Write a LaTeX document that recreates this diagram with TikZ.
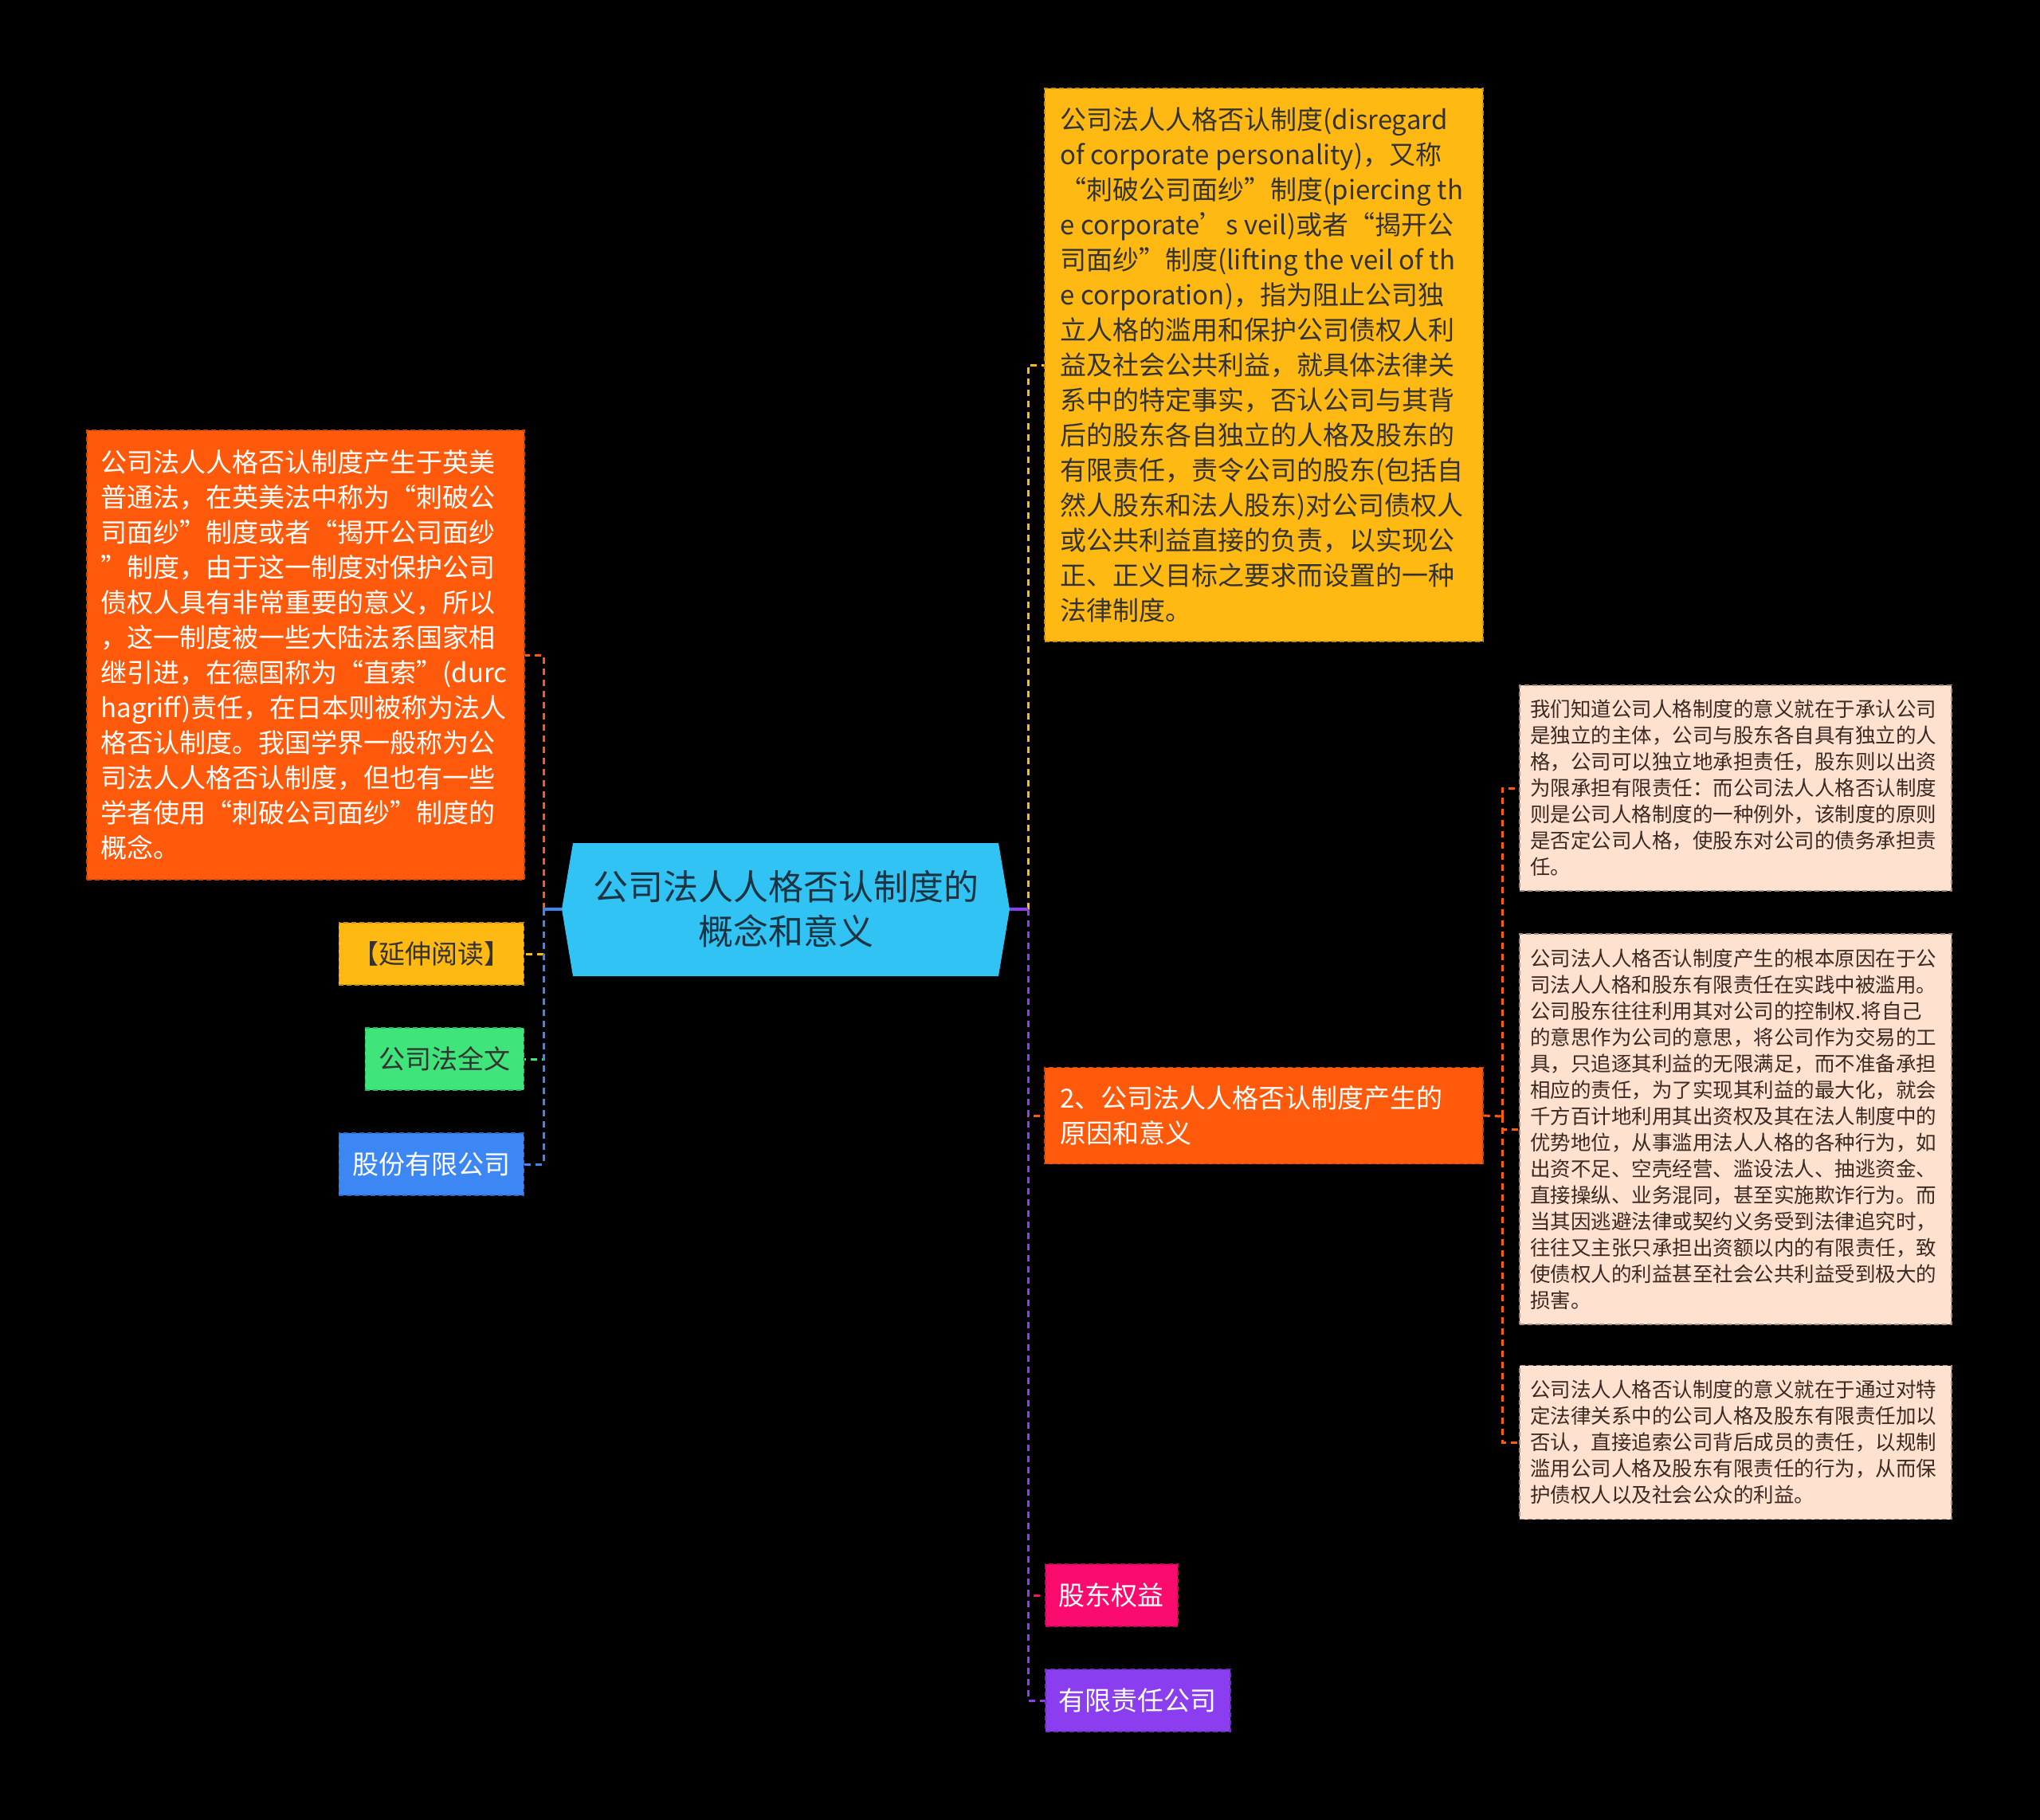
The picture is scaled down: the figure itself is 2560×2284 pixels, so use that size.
\documentclass[tikz,border=0pt]{standalone}
\usepackage{fontspec}
\setmainfont{Noto Sans CJK SC}
\definecolor{cyanC}{HTML}{31C3F3}
\definecolor{yelC}{HTML}{FFB912}
\definecolor{oraC}{HTML}{FF5A0B}
\definecolor{greC}{HTML}{3FE47B}
\definecolor{bluC}{HTML}{3C87F4}
\definecolor{pinC}{HTML}{FB0B6E}
\definecolor{purC}{HTML}{8B3DF0}
\definecolor{peaC}{HTML}{FFE1CF}
\definecolor{peaB}{HTML}{A88C7C}
\definecolor{darkT}{HTML}{333333}
\definecolor{brownT}{HTML}{3A2A22}
\definecolor{rootT}{HTML}{1C3442}
\tikzset{
  boxshape/.style={draw=#1!78!black, fill=#1, dash pattern=on 6pt off 4pt, line width=1.5pt, inner sep=0pt},
  peachshape/.style={draw=peaB, fill=peaC, dash pattern=on 6pt off 4pt, line width=1.5pt, inner sep=0pt},
  bigtext/.style={anchor=west, align=left, inner sep=0pt, font=\fontsize{33}{44}\selectfont},
  peachtext/.style={anchor=west, align=left, inner sep=0pt, text=brownT, font=\fontsize{25.5}{33}\selectfont},
  smallnode/.style={draw=#1!78!black, fill=#1, dash pattern=on 6pt off 4pt, line width=1.5pt, inner xsep=17pt, inner ysep=0pt, minimum height=78pt, font=\fontsize{33}{44}\selectfont},
  conn/.style={line width=3pt, dash pattern=on 8pt off 6pt},
  stub/.style={line width=4pt},
}
\begin{document}
\begin{tikzpicture}[x=1pt,y=-1pt]
\useasboundingbox (0,0) rectangle (2560,2284);
\fill[black] (0,0) rectangle (2560,2284);

% root hexagon
\coordinate (rootL) at (705,1141);
\coordinate (rootR) at (1267,1141);
\fill[cyanC] (rootL) -- (719,1058) -- (1253,1058) -- (rootR) -- (1253,1225) -- (719,1225) -- cycle;
\node[align=center, text=rootT, font=\fontsize{44}{56}\selectfont, inner sep=0pt] (root) at (986,1141) {公司法人人格否认制度的\\概念和意义};

% trunk points
\coordinate (lt) at (682,1141);
\coordinate (rt) at (1290,1141);
\coordinate (pt) at (1885,1401);

% yellow definition box
\node[boxshape=yelC, minimum width=550pt, minimum height=694pt] (yb) at (1586,458) {};
\node[bigtext, text=darkT] (ybt) at ([xshift=20pt]yb.west) {公司法人人格否认制度(disregard\\of corporate personality)，又称\\“刺破公司面纱”制度(piercing th\\e corporate’s veil)或者“揭开公\\司面纱”制度(lifting the veil of th\\e corporation)，指为阻止公司独\\立人格的滥用和保护公司债权人利\\益及社会公共利益，就具体法律关\\系中的特定事实，否认公司与其背\\后的股东各自独立的人格及股东的\\有限责任，责令公司的股东(包括自\\然人股东和法人股东)对公司债权人\\或公共利益直接的负责，以实现公\\正、正义目标之要求而设置的一种\\法律制度。};

% orange left box
\node[boxshape=oraC, minimum width=549pt, minimum height=564pt] (ob) at (383.5,822) {};
\node[bigtext, text=white] (obt) at ([xshift=18pt]ob.west) {公司法人人格否认制度产生于英美\\普通法，在英美法中称为“刺破公\\司面纱”制度或者“揭开公司面纱\\”制度，由于这一制度对保护公司\\债权人具有非常重要的意义，所以\\，这一制度被一些大陆法系国家相\\继引进，在德国称为“直索”(durc\\hagriff)责任，在日本则被称为法人\\格否认制度。我国学界一般称为公\\司法人人格否认制度，但也有一些\\学者使用“刺破公司面纱”制度的\\概念。};

% left small nodes
\node[smallnode=yelC, text=darkT, anchor=east] (yd) at (658,1197) {【延伸阅读】};
\node[smallnode=greC, text=darkT, anchor=east] (gs) at (658,1329) {公司法全文};
\node[smallnode=bluC, text=white, anchor=east] (gf) at (658,1461) {股份有限公司};

% right: reason box
\node[boxshape=oraC, minimum width=550pt, minimum height=121pt] (rb) at (1586,1400) {};
\node[bigtext, text=white] (rbt) at ([xshift=20pt]rb.west) {2、公司法人人格否认制度产生的\\原因和意义};

% right small nodes
\node[smallnode=pinC, text=white, anchor=west] (gd) at (1311,2002) {股东权益};
\node[smallnode=purC, text=white, anchor=west] (yx) at (1311,2134) {有限责任公司};

% peach boxes
\node[peachshape, minimum width=542pt, minimum height=258pt] (pa) at (2178,989) {};
\node[peachtext] (pat) at ([xshift=14pt]pa.west) {我们知道公司人格制度的意义就在于承认公司\\是独立的主体，公司与股东各自具有独立的人\\格，公司可以独立地承担责任，股东则以出资\\为限承担有限责任：而公司法人人格否认制度\\则是公司人格制度的一种例外，该制度的原则\\是否定公司人格，使股东对公司的债务承担责\\任。};
\node[peachshape, minimum width=542pt, minimum height=490pt] (pb) at (2178,1417) {};
\node[peachtext] (pbt) at ([xshift=14pt]pb.west) {公司法人人格否认制度产生的根本原因在于公\\司法人人格和股东有限责任在实践中被滥用。\\公司股东往往利用其对公司的控制权.将自己\\的意思作为公司的意思，将公司作为交易的工\\具，只追逐其利益的无限满足，而不准备承担\\相应的责任，为了实现其利益的最大化，就会\\千方百计地利用其出资权及其在法人制度中的\\优势地位，从事滥用法人人格的各种行为，如\\出资不足、空壳经营、滥设法人、抽逃资金、\\直接操纵、业务混同，甚至实施欺诈行为。而\\当其因逃避法律或契约义务受到法律追究时，\\往往又主张只承担出资额以内的有限责任，致\\使债权人的利益甚至社会公共利益受到极大的\\损害。};
\node[peachshape, minimum width=542pt, minimum height=193pt] (pc) at (2178,1810) {};
\node[peachtext] (pct) at ([xshift=14pt]pc.west) {公司法人人格否认制度的意义就在于通过对特\\定法律关系中的公司人格及股东有限责任加以\\否认，直接追索公司背后成员的责任，以规制\\滥用公司人格及股东有限责任的行为，从而保\\护债权人以及社会公众的利益。};

% left connectors
\draw[conn, oraC] (lt) |- (ob.east);
\draw[conn, yelC] (lt) |- (yd.east);
\draw[conn, greC] (lt) |- (gs.east);
\draw[conn, bluC] (lt) |- (gf.east);
\draw[stub, bluC] (rootL) -- (lt);

% right connectors
\draw[conn, yelC] (rt) |- (yb.west);
\draw[conn, oraC] (rt) |- (rb.west);
\draw[conn, pinC] (rt) |- (gd.west);
\draw[conn, purC] (rt) |- (yx.west);
\draw[stub, purC] (rootR) -- (rt);

% peach connectors
\draw[conn, oraC] (rb.east) -- (pt);
\draw[conn, oraC] (pt) |- (pa.west);
\draw[conn, oraC] (pt) |- (pb.west);
\draw[conn, oraC] (pt) |- (pc.west);
\end{tikzpicture}
\end{document}
